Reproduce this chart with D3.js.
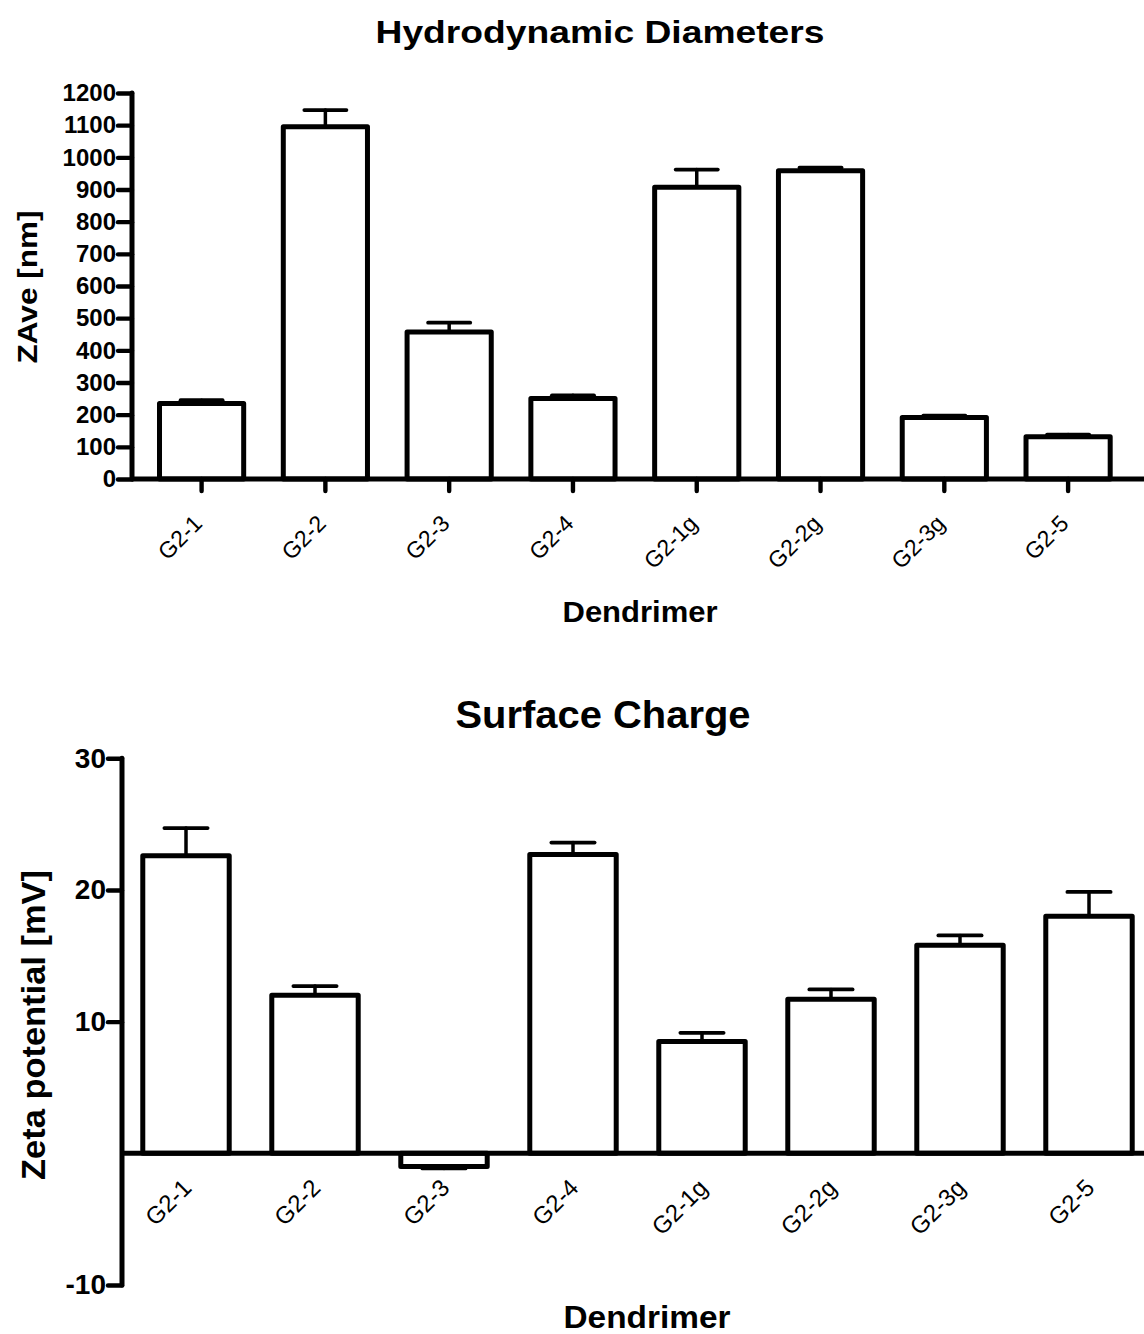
<!DOCTYPE html>
<html>
<head>
<meta charset="utf-8">
<script src="https://cdn.jsdelivr.net/npm/d3@7"></script>
<style>
  html, body { margin: 0; padding: 0; background: #fff; }
  svg { display: block; }
  text { font-family: "Liberation Sans", Arial, sans-serif; fill: #000; }
</style>
</head>
<body>
<svg id="chart" width="1144" height="1334"></svg>
<script>
const categories = ["G2-1", "G2-2", "G2-3", "G2-4", "G2-1g", "G2-2g", "G2-3g", "G2-5"];
const zaveMean = [235, 1095, 457, 250, 907, 958, 191, 131];
const zaveErr  = [10, 52, 29, 10, 55, 10, 6, 7];
const zetaMean = [22.6, 12.0, -1.0, 22.7, 8.5, 11.7, 15.8, 18.0];
const zetaErr  = [2.1, 0.7, 0.15, 0.9, 0.65, 0.75, 0.75, 1.85];
const zaveTicks = [0, 100, 200, 300, 400, 500, 600, 700, 800, 900, 1000, 1100, 1200];
const zetaTicks = [-10, 10, 20, 30];

const svg = d3.select("#chart");

function drawPanel(o) {
  const g = svg.append("g");
  const x = d3.scaleBand().domain(categories).range(o.xRange)
    .paddingInner(o.pad).paddingOuter(o.pad / 2);
  const y = d3.scaleLinear().domain(o.yDomain).range(o.yRange);
  const y0 = y(0);
  const data = categories.map((c, i) => ({ c, v: o.mean[i], e: o.err[i] }));

  // error bars
  const eb = g.append("g").attr("stroke", "#000").attr("stroke-linecap", "round");
  data.forEach(d => {
    const cx = x(d.c) + x.bandwidth() / 2;
    const end = d.v >= 0 ? d.v + d.e : d.v - d.e;
    eb.append("line").attr("x1", cx).attr("x2", cx).attr("y1", y(d.v)).attr("y2", y(end))
      .attr("stroke-width", 3.5);
    eb.append("line").attr("x1", cx - x.bandwidth() / 4).attr("x2", cx + x.bandwidth() / 4)
      .attr("y1", y(end)).attr("y2", y(end)).attr("stroke-width", 3.8);
  });

  // bars
  g.append("g").selectAll("rect").data(data).join("rect")
    .attr("x", d => x(d.c))
    .attr("width", x.bandwidth())
    .attr("y", d => Math.min(y(d.v), y0))
    .attr("height", d => Math.abs(y(d.v) - y0))
    .attr("fill", "#fff").attr("stroke", "#000")
    .attr("stroke-width", 5).attr("stroke-linejoin", "round");

  // y axis
  const ya = g.append("g").attr("transform", `translate(${o.yAxisX},0)`)
    .call(d3.axisLeft(y).tickValues(o.ticks).tickSize(o.tickLen).tickPadding(2).tickFormat(d => String(d)));
  ya.select(".domain").remove();
  ya.append("line").attr("x1", 0).attr("x2", 0)
    .attr("y1", y(o.yDomain[0])).attr("y2", y(o.yDomain[1]))
    .attr("stroke", "#000").attr("stroke-width", 5).attr("stroke-linecap", "round");
  ya.selectAll(".tick line").attr("stroke", "#000").attr("stroke-width", 4.4).attr("stroke-linecap", "round");
  ya.selectAll(".tick text").attr("font-size", o.yFont).attr("font-weight", "bold")
    .attr("fill", "#000").attr("font-family", "Liberation Sans, Arial, sans-serif");

  // x axis (zero line)
  g.append("line").attr("x1", o.yAxisX).attr("x2", 1144).attr("y1", y0).attr("y2", y0)
    .attr("stroke", "#000").attr("stroke-width", 5);

  // x ticks
  if (o.xTicks) {
    g.append("g").selectAll("line").data(categories).join("line")
      .attr("x1", d => x(d) + x.bandwidth() / 2).attr("x2", d => x(d) + x.bandwidth() / 2)
      .attr("y1", y0).attr("y2", y0 + o.xTickLen)
      .attr("stroke", "#000").attr("stroke-width", 4.4).attr("stroke-linecap", "round");
  }

  // x tick labels
  g.append("g").selectAll("text").data(categories).join("text")
    .attr("transform", d => `translate(${x(d) + x.bandwidth() / 2 + o.lblDx},${y0 + o.lblDy}) rotate(-45)`)
    .attr("text-anchor", "end")
    .attr("font-size", o.xFont)
    .text(d => d);

  // titles
  g.append("text").attr("x", o.title.x).attr("y", o.title.y).attr("text-anchor", "middle")
    .attr("font-size", o.title.size).attr("font-weight", "bold")
    .attr("textLength", o.title.len).attr("lengthAdjust", "spacingAndGlyphs")
    .text(o.title.text);
  g.append("text").attr("x", o.xTitle.x).attr("y", o.xTitle.y).attr("text-anchor", "middle")
    .attr("font-size", o.xTitle.size).attr("font-weight", "bold")
    .attr("textLength", o.xTitle.len).attr("lengthAdjust", "spacingAndGlyphs")
    .text(o.xTitle.text);
  g.append("text").attr("transform", `translate(${o.yTitle.x},${o.yTitle.y}) rotate(-90)`)
    .attr("text-anchor", "middle")
    .attr("font-size", o.yTitle.size).attr("font-weight", "bold")
    .attr("textLength", o.yTitle.len).attr("lengthAdjust", "spacingAndGlyphs")
    .text(o.yTitle.text);
}

drawPanel({
  xRange: [139.7, 1130], pad: 0.32,
  yDomain: [0, 1200], yRange: [479, 93],
  mean: zaveMean, err: zaveErr, ticks: zaveTicks,
  yAxisX: 132, tickLen: 14, yFont: 24,
  xTicks: true, xTickLen: 12,
  lblDx: 2, lblDy: 46, xFont: 23,
  title: { text: "Hydrodynamic Diameters", x: 600, y: 43, size: 32, len: 449 },
  xTitle: { text: "Dendrimer", x: 640, y: 622, size: 30, len: 155 },
  yTitle: { text: "ZAve [nm]", x: 37, y: 287, size: 28, len: 153 }
});

drawPanel({
  xRange: [121.5, 1153.5], pad: 0.33,
  yDomain: [-10, 30], yRange: [1285, 758.3],
  mean: zetaMean, err: zetaErr, ticks: zetaTicks,
  yAxisX: 122, tickLen: 14, yFont: 28,
  xTicks: false, xTickLen: 0,
  lblDx: 7, lblDy: 36, xFont: 24,
  title: { text: "Surface Charge", x: 603, y: 728, size: 38, len: 295 },
  xTitle: { text: "Dendrimer", x: 647, y: 1328, size: 32, len: 167 },
  yTitle: { text: "Zeta potential [mV]", x: 45, y: 1025, size: 33, len: 310 }
});
</script>
</body>
</html>
